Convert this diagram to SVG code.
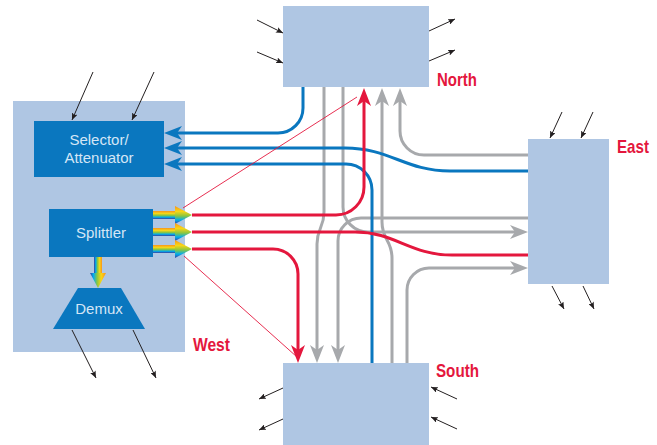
<svg xmlns="http://www.w3.org/2000/svg" width="657" height="445" viewBox="0 0 657 445">
  <style>
    .box { fill: #afc6e3; }
    .unit { fill: #0a77bf; }
    .utext { font-family: "Liberation Sans", Arial, sans-serif; font-size: 15px; fill: #d4e6f6; text-anchor: middle; }
    .label { font-family: "Liberation Sans", Arial, sans-serif; font-size: 19px; font-weight: bold; fill: #e4173d; }
    .gray { fill: none; stroke: #a7a9ac; stroke-width: 3; marker-end: url(#headGray); }
    .grayn { fill: none; stroke: #a7a9ac; stroke-width: 3; }
    .red { fill: none; stroke: #e4173d; stroke-width: 3; marker-end: url(#headRed); }
    .redn { fill: none; stroke: #e4173d; stroke-width: 3; }
    .thin { fill: none; stroke: #e4173d; stroke-width: 0.9; }
    .blue { fill: none; stroke: #0a77bf; stroke-width: 3; marker-end: url(#headBlue); }
    .bluen { fill: none; stroke: #0a77bf; stroke-width: 3; }
    .tick { fill: none; stroke: #231f20; stroke-width: 1; marker-end: url(#headTick); }
  </style>
  <defs>
    <marker id="headGray" viewBox="0 0 18 14" refX="10" refY="7" markerWidth="18" markerHeight="14" markerUnits="userSpaceOnUse" orient="auto">
      <path d="M18,7 L0,0 L5,7 L0,14 Z" fill="#a7a9ac"/>
    </marker>
    <marker id="headRed" viewBox="0 0 18 14" refX="10" refY="7" markerWidth="18" markerHeight="14" markerUnits="userSpaceOnUse" orient="auto">
      <path d="M18,7 L0,0 L5,7 L0,14 Z" fill="#e4173d"/>
    </marker>
    <marker id="headBlue" viewBox="0 0 18 14" refX="10" refY="7" markerWidth="18" markerHeight="14" markerUnits="userSpaceOnUse" orient="auto">
      <path d="M18,7 L0,0 L5,7 L0,14 Z" fill="#0a77bf"/>
    </marker>
    <marker id="headTick" viewBox="0 0 7 6" refX="7" refY="3" markerWidth="7" markerHeight="6" markerUnits="userSpaceOnUse" orient="auto">
      <path d="M7,3 L0,0 L1.5,3 L0,6 Z" fill="#231f20"/>
    </marker>
    <linearGradient id="rainbowH" x1="0" y1="0" x2="0" y2="1">
      <stop offset="0" stop-color="#f7941d"/>
      <stop offset="0.3" stop-color="#f9d616"/>
      <stop offset="0.55" stop-color="#8dc63f"/>
      <stop offset="0.78" stop-color="#00aeef"/>
      <stop offset="1" stop-color="#3a3f9e"/>
    </linearGradient>
    <linearGradient id="rainbowV" x1="1" y1="0" x2="0" y2="0">
      <stop offset="0" stop-color="#f7941d"/>
      <stop offset="0.3" stop-color="#f9d616"/>
      <stop offset="0.55" stop-color="#8dc63f"/>
      <stop offset="0.78" stop-color="#00aeef"/>
      <stop offset="1" stop-color="#3a3f9e"/>
    </linearGradient>
  </defs>

  <!-- West node with its internal units -->
  <g id="west">
    <rect class="box" x="13" y="101" width="172" height="251"/>
    <text class="label" x="193" y="351" textLength="37" lengthAdjust="spacingAndGlyphs">West</text>
  </g>
  <g id="selector">
    <rect class="unit" x="34" y="121" width="130" height="56"/>
    <text class="utext" x="99" y="145">Selector/</text>
    <text class="utext" x="99" y="163">Attenuator</text>
  </g>
  <g id="splitter">
    <rect class="unit" x="49" y="209" width="104" height="48"/>
    <text class="utext" x="101" y="238">Splittler</text>
    <!-- multi-wavelength outputs -->
    <g fill="url(#rainbowH)">
      <rect x="153" y="211" width="24" height="8"/>
      <polygon points="175,206 192,215 175,224"/>
      <rect x="153" y="228" width="24" height="8"/>
      <polygon points="175,223 192,232 175,241"/>
      <rect x="153" y="245" width="24" height="8"/>
      <polygon points="175,240 192,249 175,258"/>
    </g>
    <g fill="url(#rainbowV)">
      <rect x="94" y="257" width="8" height="17"/>
      <polygon points="90,273 106,273 98,288"/>
    </g>
  </g>
  <g id="demux">
    <polygon class="unit" points="78,288 121,288 145,329 53,329"/>
    <text class="utext" x="99" y="314">Demux</text>
  </g>

  <g id="north">
    <rect class="box" x="283" y="6" width="146" height="81"/>
    <text class="label" x="437" y="86" textLength="40" lengthAdjust="spacingAndGlyphs">North</text>
  </g>
  <g id="east">
    <rect class="box" x="528" y="139" width="81" height="145"/>
    <text class="label" x="617" y="153" textLength="32" lengthAdjust="spacingAndGlyphs">East</text>
  </g>
  <g id="south">
    <rect class="box" x="283" y="363" width="146" height="82"/>
    <text class="label" x="436" y="377" textLength="43" lengthAdjust="spacingAndGlyphs">South</text>
  </g>

  <g id="connectors">
    <!-- through traffic between the other nodes -->
    <path class="gray" d="M324,87 V212 C324,228 317,228 317,244 V355"/>
    <path class="gray" d="M343,87 V207 A25,25 0 0 0 368,232 H520"/>
    <path class="gray" d="M528,218 H361 A23,23 0 0 0 338,241 V355"/>
    <path class="gray" d="M392,363 V258 C392,240 382,240 382,222 V96"/>
    <path class="gray" d="M528,155 H424 A24,24 0 0 1 400,131 V96"/>
    <path class="gray" d="M407,363 V290 A22,22 0 0 1 429,268 H520"/>

    <!-- drops into the selector -->
    <path class="blue" d="M303,87 V108 A25,25 0 0 1 278,133 H172"/>
    <path class="blue" d="M528,171 H450 C405,171 390,148 345,148 H172"/>
    <path class="blue" d="M372,363 V190 A26,26 0 0 0 346,164 H172"/>

    <!-- splitter outputs -->
    <path class="red" d="M192,215 H336 A28,28 0 0 0 364,187 V96"/>
    <path class="redn" d="M192,232 H355 C395,232 410,255 452,255 H528"/>
    <path class="red" d="M192,249 H273 A25,25 0 0 1 298,274 V355"/>
    <path class="thin" d="M183,208 L357,97"/>
    <path class="thin" d="M184,256 L297,357"/>

    <!-- local add/drop ports -->
    <path class="tick" d="M93,72 L72,120"/>
    <path class="tick" d="M154,72 L132,120"/>
    <path class="tick" d="M72,330 L96,378"/>
    <path class="tick" d="M133,330 L156,378"/>
    <path class="tick" d="M257,20 L283,33"/>
    <path class="tick" d="M257,52 L283,63"/>
    <path class="tick" d="M429,31 L455,19"/>
    <path class="tick" d="M429,61 L455,50"/>
    <path class="tick" d="M562,112 L550,138"/>
    <path class="tick" d="M593,112 L581,138"/>
    <path class="tick" d="M552,286 L564,309"/>
    <path class="tick" d="M583,286 L594,309"/>
    <path class="tick" d="M283,388 L259,399"/>
    <path class="tick" d="M283,419 L259,430"/>
    <path class="tick" d="M457,399 L431,387"/>
    <path class="tick" d="M457,429 L431,417"/>
  </g>
</svg>
